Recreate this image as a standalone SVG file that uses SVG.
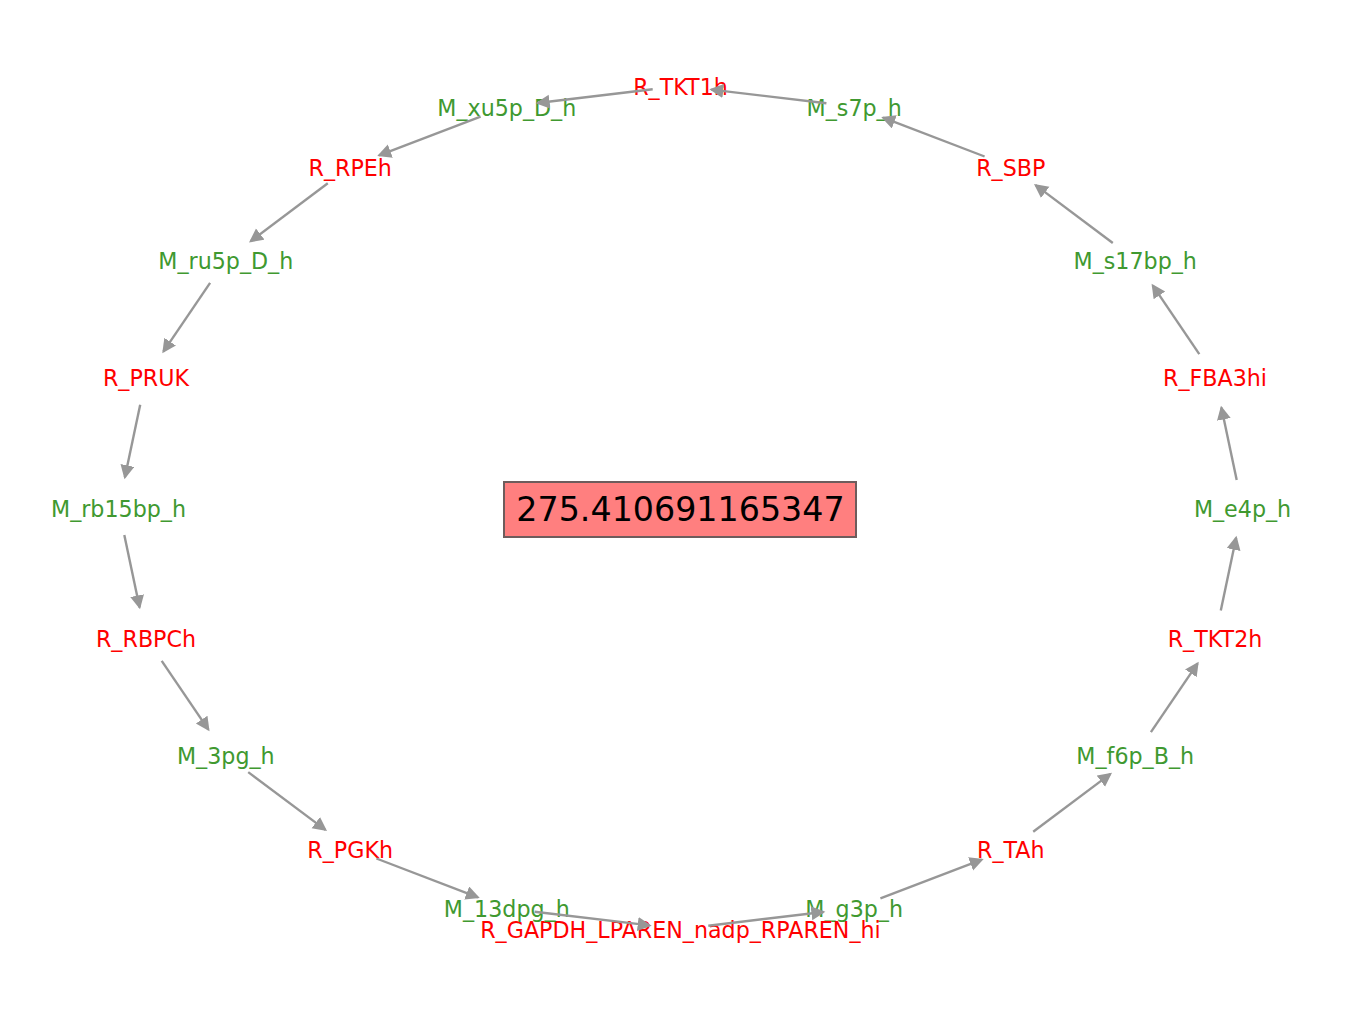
<svg xmlns="http://www.w3.org/2000/svg" width="1360" height="1019" viewBox="0 0 1360 1019">
<style>
text { font-family: "DejaVu Sans", "Liberation Sans", sans-serif; font-size: 22.2px; text-anchor: middle; }
.r { fill: #ff0000; }
.m { fill: #409930; }
.e { stroke: #979797; stroke-width: 2.4; fill: none; marker-end: url(#ah); }
.big { font-size: 33.3px; fill: #000000; }
</style>
<defs>
<marker id="ah" markerUnits="userSpaceOnUse" markerWidth="16" markerHeight="16" refX="12" refY="7" orient="auto" viewBox="0 0 16 16">
<path d="M0,0 L14,7 L0,14 z" fill="#979797"/>
</marker>
</defs>
<rect width="1360" height="1019" fill="#ffffff"/>
<g id="nodes">
<g id="R_TKT1h"><text class="r" x="680.5" y="95">R_TKT1h</text></g>
<g id="M_s7p_h"><text class="m" x="854.2" y="115.6">M_s7p_h</text></g>
<g id="R_SBP"><text class="r" x="1010.8" y="175.5">R_SBP</text></g>
<g id="M_s17bp_h"><text class="m" x="1135.2" y="268.8">M_s17bp_h</text></g>
<g id="R_FBA3hi"><text class="r" x="1215" y="386.3">R_FBA3hi</text></g>
<g id="M_e4p_h"><text class="m" x="1242.5" y="516.5">M_e4p_h</text></g>
<g id="R_TKT2h"><text class="r" x="1215" y="646.8">R_TKT2h</text></g>
<g id="M_f6p_B_h"><text class="m" x="1135.2" y="764.3">M_f6p_B_h</text></g>
<g id="R_TAh"><text class="r" x="1010.8" y="857.5">R_TAh</text></g>
<g id="M_g3p_h"><text class="m" x="854.2" y="917.4">M_g3p_h</text></g>
<g id="R_GAPDH_LPAREN_nadp_RPAREN_hi"><text class="r" x="680.5" y="938">R_GAPDH_LPAREN_nadp_RPAREN_hi</text></g>
<g id="M_13dpg_h"><text class="m" x="506.8" y="917.4">M_13dpg_h</text></g>
<g id="R_PGKh"><text class="r" x="350.2" y="857.5">R_PGKh</text></g>
<g id="M_3pg_h"><text class="m" x="225.8" y="764.3">M_3pg_h</text></g>
<g id="R_RBPCh"><text class="r" x="146" y="646.8">R_RBPCh</text></g>
<g id="M_rb15bp_h"><text class="m" x="118.5" y="516.5">M_rb15bp_h</text></g>
<g id="R_PRUK"><text class="r" x="146" y="386.3">R_PRUK</text></g>
<g id="M_ru5p_D_h"><text class="m" x="225.8" y="268.8">M_ru5p_D_h</text></g>
<g id="R_RPEh"><text class="r" x="350.2" y="175.5">R_RPEh</text></g>
<g id="M_xu5p_D_h"><text class="m" x="506.8" y="115.6">M_xu5p_D_h</text></g>
<g id="value">
<rect x="504" y="482" width="352" height="55" fill="#ff7f7f" stroke="#6e5c5c" stroke-width="2"/>
<text class="big" x="680.5" y="521">275.410691165347</text>
</g>
</g>
<g id="connectors">
<line class="e" x1="826.4" y1="103.3" x2="711.3" y2="89.6"/>
<line class="e" x1="984.6" y1="156.5" x2="883.1" y2="117.6"/>
<line class="e" x1="1112.8" y1="243" x2="1035.6" y2="185.1"/>
<line class="e" x1="1199.3" y1="354.1" x2="1152.7" y2="285.4"/>
<line class="e" x1="1236.7" y1="480.1" x2="1221.4" y2="407.6"/>
<line class="e" x1="1220.8" y1="610.4" x2="1236.1" y2="537.8"/>
<line class="e" x1="1150.9" y1="732.1" x2="1197.6" y2="663.4"/>
<line class="e" x1="1033.2" y1="831.7" x2="1110.4" y2="773.9"/>
<line class="e" x1="880.4" y1="898.4" x2="981.8" y2="859.6"/>
<line class="e" x1="708.3" y1="925.7" x2="823.4" y2="912.0"/>
<line class="e" x1="534.6" y1="911.7" x2="649.7" y2="925.4"/>
<line class="e" x1="376.4" y1="858.5" x2="477.9" y2="897.3"/>
<line class="e" x1="248.2" y1="772.1" x2="325.4" y2="829.9"/>
<line class="e" x1="161.7" y1="660.9" x2="208.4" y2="729.6"/>
<line class="e" x1="124.3" y1="534.9" x2="139.6" y2="607.4"/>
<line class="e" x1="140.2" y1="404.7" x2="124.9" y2="477.2"/>
<line class="e" x1="210.1" y1="282.9" x2="163.4" y2="351.6"/>
<line class="e" x1="327.8" y1="183.3" x2="250.6" y2="241.2"/>
<line class="e" x1="480.6" y1="116.6" x2="379.1" y2="155.4"/>
<line class="e" x1="652.7" y1="89.3" x2="537.6" y2="103.0"/>
</g>
</svg>
